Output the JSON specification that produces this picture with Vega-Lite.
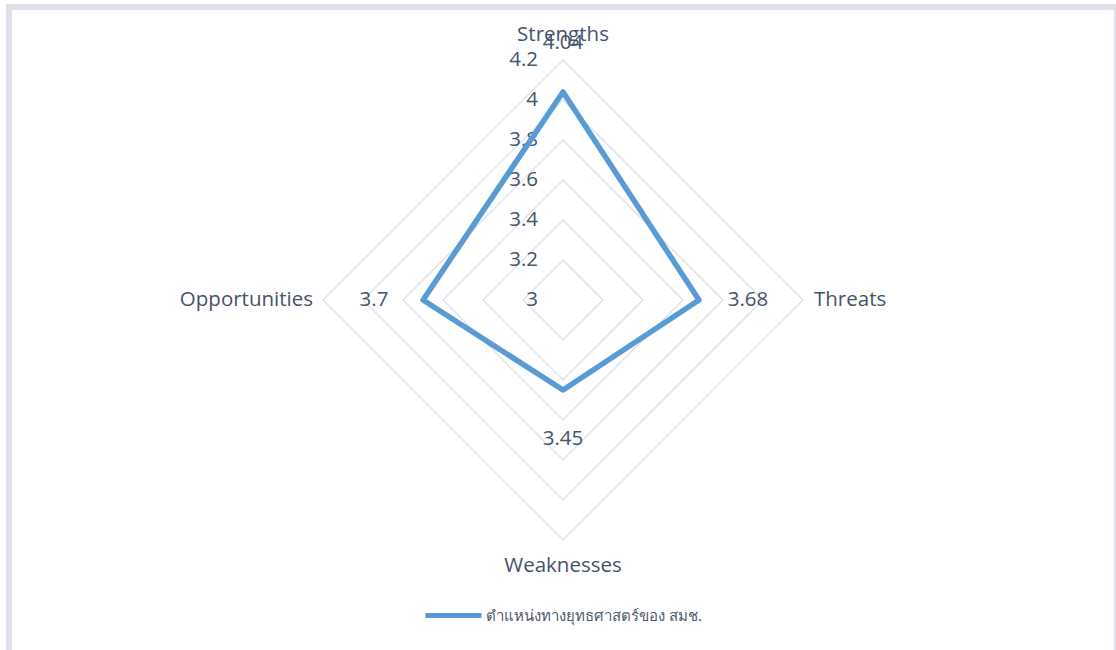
{
  "$schema": "https://vega.github.io/schema/vega-lite/v6.json",
  "width": 1108,
  "height": 647,
  "autosize": {"type": "none"},
  "padding": {"left": 9, "top": 7, "right": -1, "bottom": -4},
  "background": "white",
  "config": {
    "view": {"stroke": "#DEE2E8", "strokeWidth": 6},
    "font": "Open Sans",
    "text": {"font": "Open Sans", "fontSize": 20.5, "color": "#44546A"}
  },
  "datasets": {
    "series": [
      {"axis": "Strengths", "angle": 0, "value": 4.04, "series": "ตำแหน่งทางยุทธศาสตร์ของ สมช."},
      {"axis": "Threats", "angle": 90, "value": 3.68, "series": "ตำแหน่งทางยุทธศาสตร์ของ สมช."},
      {"axis": "Weaknesses", "angle": 180, "value": 3.45, "series": "ตำแหน่งทางยุทธศาสตร์ของ สมช."},
      {"axis": "Opportunities", "angle": 270, "value": 3.7, "series": "ตำแหน่งทางยุทธศาสตร์ของ สมช."}
    ],
    "rings": [
      {"level": 3.2, "angle": [0, 90, 180, 270]},
      {"level": 3.4, "angle": [0, 90, 180, 270]},
      {"level": 3.6, "angle": [0, 90, 180, 270]},
      {"level": 3.8, "angle": [0, 90, 180, 270]},
      {"level": 4.0, "angle": [0, 90, 180, 270]},
      {"level": 4.2, "angle": [0, 90, 180, 270]}
    ],
    "ticks": [
      {"tick": 3}, {"tick": 3.2}, {"tick": 3.4}, {"tick": 3.6}, {"tick": 3.8}, {"tick": 4.0}, {"tick": 4.2}
    ]
  },
  "layer": [
    {
      "data": {"name": "rings"},
      "transform": [
        {"flatten": ["angle"]},
        {"calculate": "(datum.level - 3) * sin(datum.angle * PI / 180)", "as": "px"},
        {"calculate": "(datum.level - 3) * cos(datum.angle * PI / 180)", "as": "py"}
      ],
      "mark": {"type": "line", "interpolate": "linear-closed", "stroke": "#D9DEE5", "strokeWidth": 1.2},
      "encoding": {
        "x": {"field": "px", "type": "quantitative", "scale": {"domain": [-2.77, 2.77], "nice": false, "zero": false}, "axis": null},
        "y": {"field": "py", "type": "quantitative", "scale": {"domain": [-1.77, 1.465], "nice": false, "zero": false}, "axis": null},
        "detail": {"field": "level", "type": "nominal"},
        "order": {"field": "angle", "type": "quantitative"}
      }
    },
    {
      "data": {"name": "ticks"},
      "transform": [
        {"calculate": "datum.tick - 3", "as": "py"}
      ],
      "mark": {"type": "text", "align": "right", "baseline": "middle", "dx": -25},
      "encoding": {
        "x": {"datum": 0, "type": "quantitative"},
        "y": {"field": "py", "type": "quantitative"},
        "text": {"field": "tick", "type": "quantitative", "format": "~g"}
      }
    },
    {
      "data": {"name": "series"},
      "transform": [
        {"calculate": "(datum.value - 3) * sin(datum.angle * PI / 180)", "as": "px"},
        {"calculate": "(datum.value - 3) * cos(datum.angle * PI / 180)", "as": "py"}
      ],
      "mark": {"type": "line", "interpolate": "linear-closed", "strokeWidth": 5.5, "strokeJoin": "round"},
      "encoding": {
        "x": {"field": "px", "type": "quantitative"},
        "y": {"field": "py", "type": "quantitative"},
        "order": {"field": "angle", "type": "quantitative"},
        "color": {
          "field": "series", "type": "nominal",
          "scale": {"range": ["#5B9BD5"]},
          "legend": {
            "orient": "none", "legendX": 414, "legendY": 578, "title": null,
            "symbolType": "stroke", "symbolSize": 3136, "symbolStrokeWidth": 5,
            "labelFont": "Noto Sans", "labelFontSize": 15, "labelColor": "#4F5B6B",
            "labelOffset": 2, "padding": 0, "labelLimit": 400
          }
        }
      }
    },
    {
      "data": {"name": "series"},
      "transform": [
        {"calculate": "(datum.value - 3 + 0.245) * sin(datum.angle * PI / 180)", "as": "px"},
        {"calculate": "(datum.value - 3 + 0.245) * cos(datum.angle * PI / 180)", "as": "py"}
      ],
      "mark": {"type": "text", "align": "center", "baseline": "middle"},
      "encoding": {
        "x": {"field": "px", "type": "quantitative"},
        "y": {"field": "py", "type": "quantitative"},
        "text": {"field": "value", "type": "quantitative", "format": "~g"}
      }
    },
    {
      "data": {"name": "series"},
      "transform": [
        {"filter": "datum.angle == 0"},
        {"calculate": "1.25 * sin(datum.angle * PI / 180)", "as": "px"},
        {"calculate": "1.25 * cos(datum.angle * PI / 180)", "as": "py"}
      ],
      "mark": {"type": "text", "align": "center", "baseline": "middle", "dy": -15},
      "encoding": {
        "x": {"field": "px", "type": "quantitative"},
        "y": {"field": "py", "type": "quantitative"},
        "text": {"field": "axis", "type": "nominal"}
      }
    },
    {
      "data": {"name": "series"},
      "transform": [
        {"filter": "datum.angle == 180"},
        {"calculate": "1.25 * sin(datum.angle * PI / 180)", "as": "px"},
        {"calculate": "1.25 * cos(datum.angle * PI / 180)", "as": "py"}
      ],
      "mark": {"type": "text", "align": "center", "baseline": "middle", "dy": 16},
      "encoding": {
        "x": {"field": "px", "type": "quantitative"},
        "y": {"field": "py", "type": "quantitative"},
        "text": {"field": "axis", "type": "nominal"}
      }
    },
    {
      "data": {"name": "series"},
      "transform": [
        {"filter": "datum.angle == 90"},
        {"calculate": "1.25 * sin(datum.angle * PI / 180)", "as": "px"},
        {"calculate": "1.25 * cos(datum.angle * PI / 180)", "as": "py"}
      ],
      "mark": {"type": "text", "align": "left", "baseline": "middle", "dx": 1},
      "encoding": {
        "x": {"field": "px", "type": "quantitative"},
        "y": {"field": "py", "type": "quantitative"},
        "text": {"field": "axis", "type": "nominal"}
      }
    },
    {
      "data": {"name": "series"},
      "transform": [
        {"filter": "datum.angle == 270"},
        {"calculate": "1.25 * sin(datum.angle * PI / 180)", "as": "px"},
        {"calculate": "1.25 * cos(datum.angle * PI / 180)", "as": "py"}
      ],
      "mark": {"type": "text", "align": "right", "baseline": "middle", "dx": 0},
      "encoding": {
        "x": {"field": "px", "type": "quantitative"},
        "y": {"field": "py", "type": "quantitative"},
        "text": {"field": "axis", "type": "nominal"}
      }
    }
  ]
}
